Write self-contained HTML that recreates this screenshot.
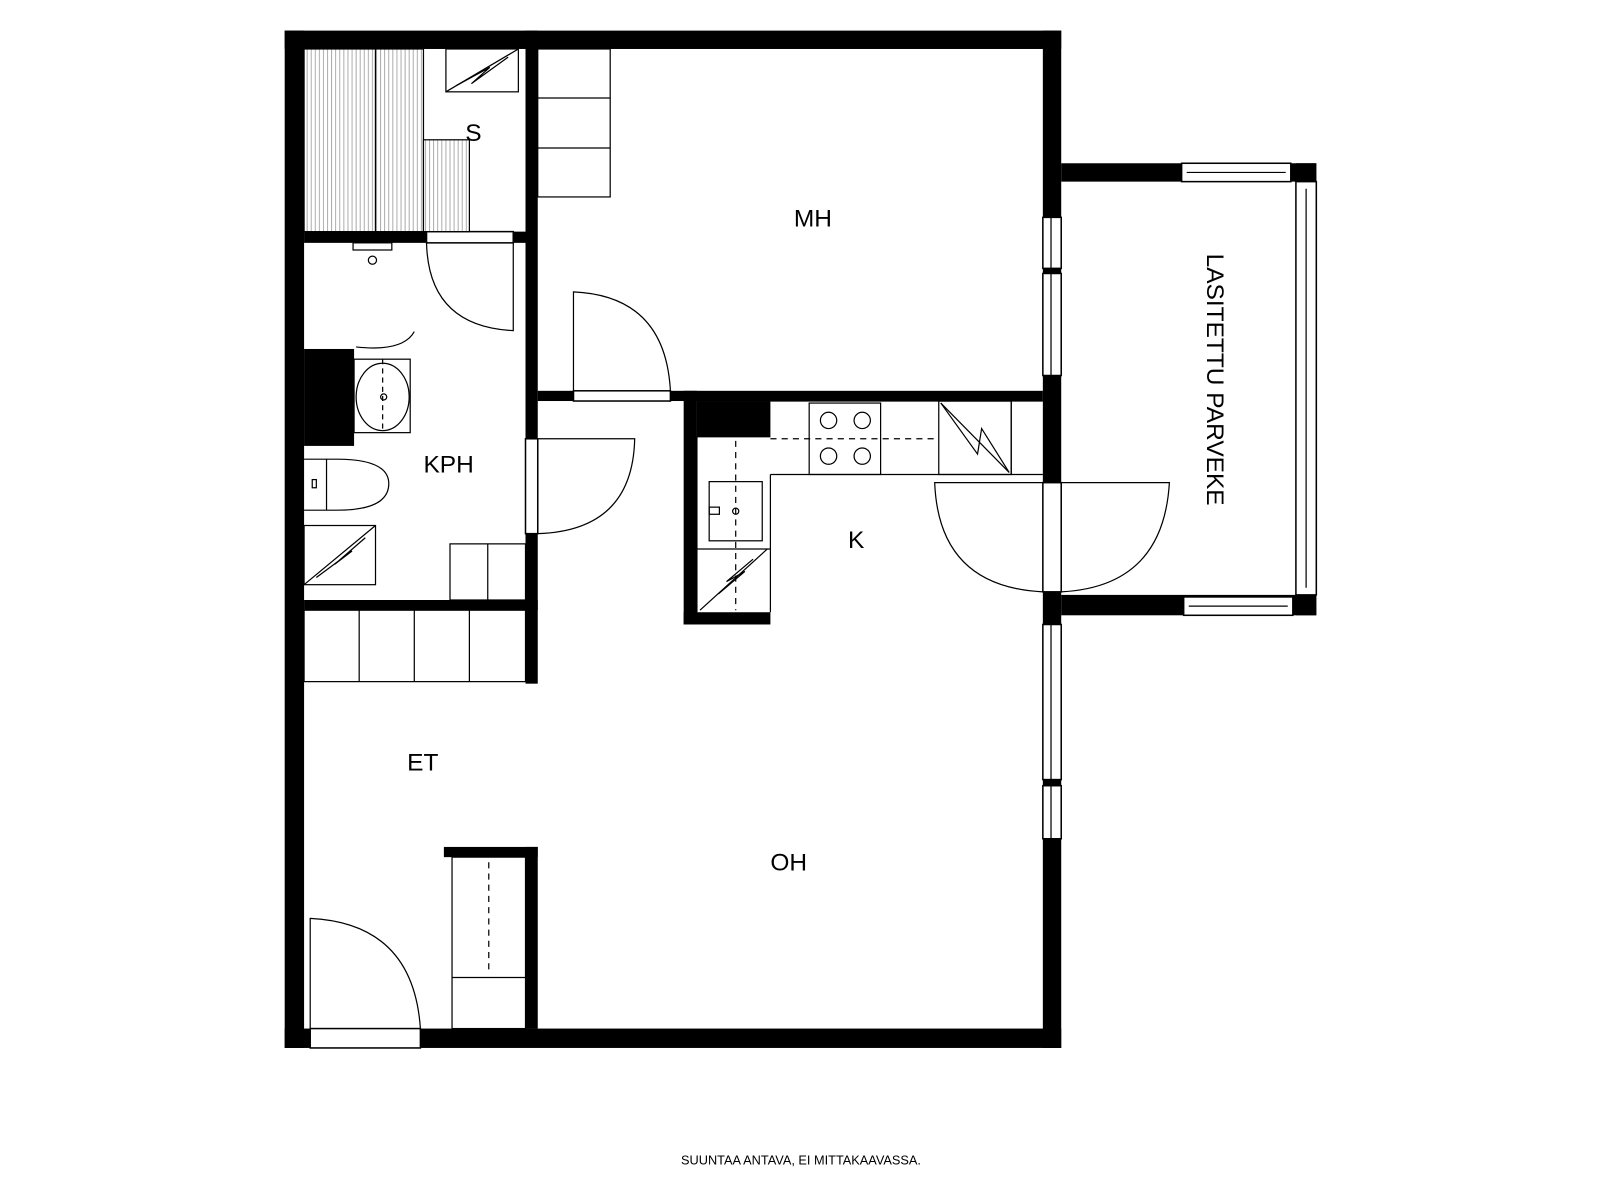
<!DOCTYPE html>
<html><head><meta charset="utf-8"><style>
html,body{margin:0;padding:0;background:#fff;}
svg{display:block;}
text{font-family:"Liberation Sans",sans-serif;fill:#000;}
</style></head><body>
<svg width="1600" height="1200" viewBox="0 0 1600 1200" xmlns="http://www.w3.org/2000/svg">
<defs>
<pattern id="st" width="4" height="10" patternUnits="userSpaceOnUse"><rect width="4" height="10" fill="#fff"/><line x1="1" y1="0" x2="1" y2="10" stroke="#999" stroke-width="0.8"/></pattern>
</defs>
<g transform="scale(1.0204)">
<g fill="#000">
<rect x="279" y="30" width="761" height="18"/>
<rect x="279" y="30" width="19" height="997"/>
<rect x="279" y="1008" width="761" height="19"/>
<rect x="304" y="1008" width="108" height="19" fill="#fff" stroke="#000" stroke-width="1.5"/>
<rect x="1022" y="30" width="18" height="997"/>
<rect x="515" y="30" width="12" height="640"/>
<rect x="298" y="227" width="217" height="11"/>
<rect x="298" y="588" width="229" height="10"/>
<rect x="527" y="383" width="495" height="10"/>
<rect x="515" y="830" width="12" height="178"/>
<rect x="435" y="830" width="92" height="10"/>
<rect x="670" y="383" width="13" height="229"/>
<rect x="670" y="600" width="85" height="12"/>
<rect x="683" y="393" width="72" height="35"/>
<rect x="298" y="342" width="49" height="95"/>
<rect x="1040" y="160" width="250" height="18"/>
<rect x="1270" y="160" width="20" height="443"/>
<rect x="1040" y="583" width="250" height="20"/>
</g>
<g fill="#fff" stroke="#000" stroke-width="1.5">
<rect x="418" y="227" width="85" height="11"/>
<rect x="562" y="383" width="95" height="10"/>
<rect x="515" y="430" width="12" height="93"/>
<rect x="1022" y="213" width="18" height="50"/>
<rect x="1022" y="268" width="18" height="100"/>
<rect x="1022" y="612" width="18" height="152"/>
<rect x="1022" y="770" width="18" height="52"/>
<rect x="1022" y="473" width="18" height="107"/>
<rect x="1158" y="160" width="107" height="18"/>
<rect x="1270" y="178" width="20" height="405"/>
<rect x="1160" y="585" width="107" height="18"/>
</g>
<g fill="none" stroke="#000" stroke-width="1.2">
<line x1="1030" y1="213" x2="1030" y2="263"/><line x1="1030" y1="268" x2="1030" y2="368"/>
<line x1="1030" y1="612" x2="1030" y2="764"/><line x1="1030" y1="770" x2="1030" y2="822"/>
<line x1="1163" y1="169" x2="1260" y2="169"/><line x1="1280" y1="185" x2="1280" y2="576"/>
<line x1="1165" y1="594" x2="1262" y2="594"/>
<rect x="298" y="48" width="70" height="179" fill="url(#st)"/>
<rect x="368" y="48" width="47" height="179" fill="url(#st)"/>
<rect x="415" y="137" width="45" height="90" fill="url(#st)"/>
<rect x="437" y="48" width="71" height="42"/>
<polyline points="437,90 508,48"/><polyline points="447,84 480,66 462,82 498,56" />
<rect x="527" y="48" width="71" height="145"/>
<line x1="527" y1="96" x2="598" y2="96"/><line x1="527" y1="145" x2="598" y2="145"/>
<path d="M418,238 Q420,320 503,324 L503,238"/>
<path d="M562,393 L562,286 Q652,290 657,383"/>
<path d="M527,430 L622,430 Q620,520 527,523"/>
<path d="M304,1008 L304,900 Q405,905 412,1008"/>
<path d="M1022,473 L916,473 Q920,575 1022,580"/>
<path d="M1040,473 L1146,473 Q1140,575 1040,580"/>
<rect x="346" y="238" width="38" height="7"/><circle cx="365" cy="255" r="4"/>
<path d="M349,340 Q395,345 406,325"/>
<rect x="347" y="352" width="55" height="72"/>
<ellipse cx="375" cy="389" rx="26" ry="33"/><circle cx="376" cy="389" r="3"/>
<line x1="375" y1="352" x2="375" y2="424" stroke-dasharray="5,4"/>
<path d="M298,450 L330,450 Q381,450 381,474 Q381,500 330,500 L298,500"/><line x1="320" y1="450" x2="320" y2="500"/>
<rect x="306" y="470" width="4" height="8"/>
<rect x="298" y="515" width="70" height="58"/><polyline points="298,573 368,515"/><polyline points="310,566 345,540 328,553 358,527"/>
<rect x="441" y="533" width="74" height="55"/><line x1="478" y1="533" x2="478" y2="588"/>
<rect x="298" y="598" width="217" height="70"/>
<line x1="352" y1="598" x2="352" y2="668"/><line x1="406" y1="598" x2="406" y2="668"/><line x1="460" y1="598" x2="460" y2="668"/>
<rect x="443" y="840" width="72" height="168"/><line x1="443" y1="958" x2="515" y2="958"/>
<line x1="479" y1="845" x2="479" y2="955" stroke-dasharray="6,5"/>
<path d="M755,393 L1022,393 M755,428 L683,428 L683,600 M755,465 L1022,465 M755,465 L755,600"/>
<rect x="793" y="395" width="70" height="70"/>
<circle cx="812" cy="412" r="8"/><circle cx="845" cy="412" r="8"/><circle cx="812" cy="447" r="8"/><circle cx="845" cy="447" r="8"/>
<line x1="755" y1="430" x2="920" y2="430" stroke-dasharray="6,5"/>
<rect x="920" y="393" width="71" height="72"/><polyline points="922,395 989,463"/><polyline points="922,395 958,445 962,420 989,463"/>
<line x1="991" y1="393" x2="991" y2="465"/>
<rect x="695" y="472" width="52" height="58"/><rect x="695" y="497" width="10" height="7"/><circle cx="721" cy="501" r="3"/>
<line x1="721" y1="432" x2="721" y2="598" stroke-dasharray="6,5"/>
<line x1="683" y1="538" x2="755" y2="538"/><polyline points="686,598 752,538"/><polyline points="704,582 730,560 712,570 738,548"/>
</g>
<g font-size="24">
<text x="456" y="138">S</text>
<text x="778" y="222">MH</text>
<text x="415" y="463">KPH</text>
<text x="831" y="537">K</text>
<text x="399" y="755">ET</text>
<text x="755" y="853">OH</text>
<text transform="translate(1183,372) rotate(90)" text-anchor="middle">LASITETTU PARVEKE</text>
</g>
<text x="785" y="1141" font-size="12.5" text-anchor="middle">SUUNTAA ANTAVA, EI MITTAKAAVASSA.</text>
</g>
</svg>
</body></html>
